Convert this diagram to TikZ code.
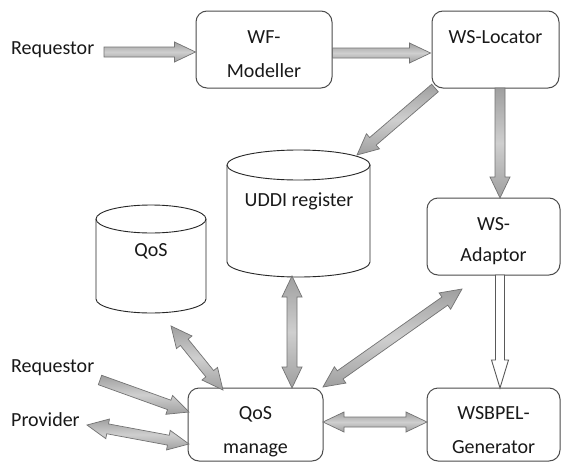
\documentclass[tikz,border=0pt]{standalone}
\usepackage{fontspec}
\setmainfont{Carlito}
\usetikzlibrary{calc}

\tikzset{
  box/.style={draw=black!70, line width=1pt, rounded corners=11pt, inner sep=0pt},
  txt/.style={font=\fontsize{20}{34}\selectfont, align=center, inner sep=0pt, text=black!90},
  can/.style={draw=black!85, line width=0.9pt},
  arrowshade/.style={top color=gray!75, bottom color=gray!75, middle color=gray!38,
                     draw=black!55, line width=0.7pt},
  hollowarrow/.style={fill=white, draw=black!65, line width=0.9pt},
}

% length (pt) and direction (deg) of the segment between two named points
\newcommand\arrowgeom[2]{%
  \path let \p1=($(#2)-(#1)$) in
    \pgfextra{\pgfmathsetmacro\tmplen{veclen(\x1,\y1)}%
              \pgfmathsetmacro\tmpang{atan2(\y1,\x1)}%
              \xdef\arlen{\tmplen}\xdef\arang{\tmpang}};}

% single-headed block arrow: [style]{from}{to}
\newcommand\blkarrow[3][arrowshade]{%
  \arrowgeom{#2}{#3}%
  \begin{scope}[shift={(#2)}, rotate=\arang, x=1pt, y=1pt]
    \path[#1] (0,-5) -- (\arlen-21,-5) -- (\arlen-21,-10) -- (\arlen,0)
      -- (\arlen-21,10) -- (\arlen-21,5) -- (0,5) -- cycle;
  \end{scope}}

% double-headed block arrow: [style]{from}{to}
\newcommand\dblkarrow[3][arrowshade]{%
  \arrowgeom{#2}{#3}%
  \begin{scope}[shift={(#2)}, rotate=\arang, x=1pt, y=1pt]
    \path[#1] (0,0) -- (21,10) -- (21,5) -- (\arlen-21,5) -- (\arlen-21,10)
      -- (\arlen,0) -- (\arlen-21,-10) -- (\arlen-21,-5) -- (21,-5)
      -- (21,-10) -- cycle;
  \end{scope}}

% hollow arrow with a longer head
\newcommand\hollowarrowdraw[2]{%
  \arrowgeom{#1}{#2}%
  \begin{scope}[shift={(#1)}, rotate=\arang, x=1pt, y=1pt]
    \path[hollowarrow] (0,-4.5) -- (\arlen-28,-4.5) -- (\arlen-28,-8.5) -- (\arlen,0)
      -- (\arlen-28,8.5) -- (\arlen-28,4.5) -- (0,4.5) -- cycle;
  \end{scope}}

\begin{document}
\begin{tikzpicture}[x=1pt, y=-1pt]
\useasboundingbox (0,0) rectangle (562,463);
\clip (0,0) rectangle (562,463);
\fill[white] (0,0) rectangle (562,463);

% process boxes
\node[box, minimum width=136pt, minimum height=77pt] (wfm) at (264,49.5) {};
\node[txt] (wfmt) at (264,54) {WF-\\Modeller};
\node[box, minimum width=127pt, minimum height=77pt] (wsl) at (495.5,49.5) {};
\node[txt] (wslt) at (495.5,37.5) {WS-Locator};
\node[box, minimum width=133pt, minimum height=77pt] (wsa) at (493.5,236.5) {};
\node[txt, font=\fontsize{20}{31}\selectfont] (wsat) at (493.5,241) {WS-\\Adaptor};
\node[box, minimum width=135pt, minimum height=73pt] (qm) at (255.5,424.5) {};
\node[txt] (qmt) at (255.5,432) {QoS\\manage};
\node[box, minimum width=133pt, minimum height=73pt] (gen) at (493.5,424.5) {};
\node[txt] (gent) at (493.5,430) {WSBPEL-\\Generator};

% databases
\draw[can] (227,165) -- (227,262) arc[start angle=180, end angle=0, x radius=71.5, y radius=15] -- (370,165);
\draw[can] (298.5,165) ellipse[x radius=71.5, y radius=15];
\node[txt] (uddi) at (299,201) {UDDI register};
\draw[can] (96,219) -- (96,299) arc[start angle=180, end angle=0, x radius=55, y radius=14] -- (206,219);
\draw[can] (151,219) ellipse[x radius=55, y radius=14];
\node[txt] (qosdb) at (151,251) {QoS};

% external actors
\node[txt, anchor=west] (req1) at (11,50) {Requestor};
\node[txt, anchor=west] (req2) at (11,368) {Requestor};
\node[txt, anchor=west] (prov) at (11,420) {Provider};

% connector end points
\coordinate (r1e) at (104,52);
\coordinate (wfmin) at ($(wfm.west)+(0,2.5)$);
\coordinate (wfmout) at ($(wfm.east)+(0,3.5)$);
\coordinate (wslin) at ($(wsl.west)+(-1,3.5)$);
\coordinate (wslsw) at (435,88);
\coordinate (uddine) at (357,155);
\coordinate (wsls) at (500,88);
\coordinate (wsan) at (500,198);
\coordinate (wsas) at (500,275);
\coordinate (genn) at (500,388);
\coordinate (r2e) at (100,380);
\coordinate (qmr) at (189,412);
\coordinate (prove) at (87,425);
\coordinate (qmp) at (189,444);
\coordinate (qosdbs) at (171,326);
\coordinate (qmq) at (223,390);
\coordinate (uddis) at (292,276);
\coordinate (qmu) at (292,388);
\coordinate (qmne) at (323,387);
\coordinate (wsasw) at (462,289);
\coordinate (qme) at (323,422);
\coordinate (genw) at (427,422);

% connectors
\blkarrow{r1e}{wfmin}
\blkarrow{wfmout}{wslin}
\blkarrow{wslsw}{uddine}
\blkarrow{wsls}{wsan}
\hollowarrowdraw{wsas}{genn}
\blkarrow{r2e}{qmr}
\dblkarrow{prove}{qmp}
\dblkarrow{qosdbs}{qmq}
\dblkarrow{uddis}{qmu}
\dblkarrow{qmne}{wsasw}
\dblkarrow{qme}{genw}
\end{tikzpicture}
\end{document}
